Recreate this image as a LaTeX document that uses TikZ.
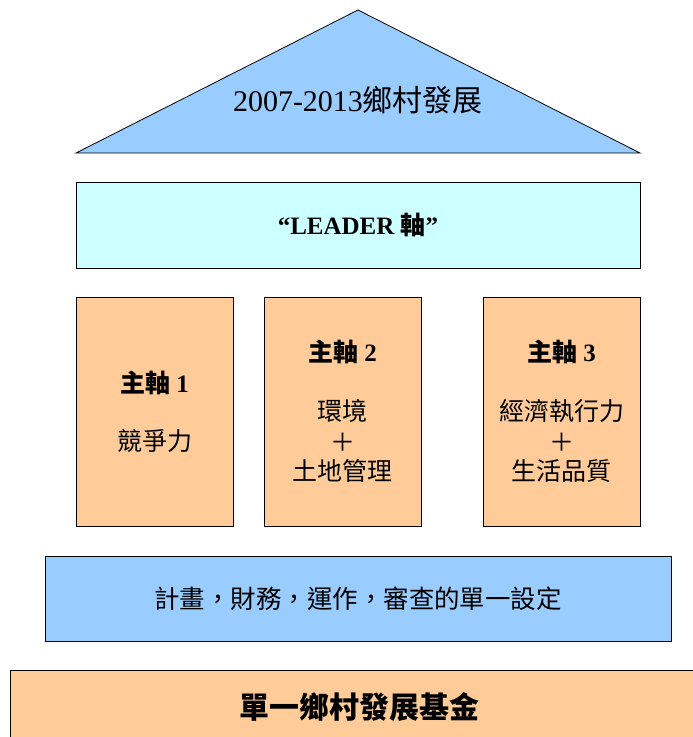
\documentclass[tikz,border=0pt]{standalone}
\usepackage{fontspec}
\setmainfont{Liberation Serif}
\newfontfamily\cjk{Noto Sans CJK TC}
\definecolor{skyblue}{HTML}{99CCFF}
\definecolor{paleaqua}{HTML}{CCFFFF}
\definecolor{peach}{HTML}{FFCC99}
\begin{document}
\begin{tikzpicture}[x=1pt,y=-1pt,
  box/.style={draw=black, line width=0.8pt, inner sep=0pt},
  lbl/.style={inner sep=0pt, anchor=center, text=black},
  fs/.style={font=\fontsize{#1}{#1}\selectfont}]
\useasboundingbox (0,0) rectangle (693,737);
\begin{scope}
\clip (0,0) rectangle (693,737);
% roof
\coordinate (apex) at (358,10);
\coordinate (bl) at (76,153);
\coordinate (br) at (640,153);
\filldraw[fill=skyblue, draw=black, line width=0.8pt] (apex) -- (br) -- (bl) -- cycle;
\node[lbl, fs=30] (title) at (358,100) {2007-2013{\cjk 鄉村發展}};
% LEADER
\node[box, fill=paleaqua, minimum width=564, minimum height=86] (leader) at (358,225) {};
\node[lbl, fs=25] (leadertxt) at (leader.center) {\bfseries “LEADER {\cjk\bfseries 軸}”};
% pillars
\node[box, fill=peach, minimum width=157, minimum height=229] (p1) at (154.5,411.5) {};
\node[box, fill=peach, minimum width=157, minimum height=229] (p2) at (342.5,411.5) {};
\node[box, fill=peach, minimum width=157, minimum height=229] (p3) at (561.5,411.5) {};
\node[lbl, fs=25] (p1h) at (154.5,383) {{\cjk\bfseries 主軸} \bfseries 1};
\node[lbl, fs=25] (p1a) at (154.5,441) {\cjk 競爭力};
\node[lbl, fs=25] (p2h) at (342.5,352) {{\cjk\bfseries 主軸} \bfseries 2};
\node[lbl, fs=25] (p2a) at (342.5,411) {\cjk 環境};
\node[lbl, fs=25] (p2p) at (342.5,442) {\cjk ＋};
\node[lbl, fs=25] (p2b) at (342.5,471) {\cjk 土地管理};
\node[lbl, fs=25] (p3h) at (561.5,352) {{\cjk\bfseries 主軸} \bfseries 3};
\node[lbl, fs=25] (p3a) at (561.5,411) {\cjk 經濟執行力};
\node[lbl, fs=25] (p3p) at (561.5,442) {\cjk ＋};
\node[lbl, fs=25] (p3b) at (561.5,471) {\cjk 生活品質};
% base bar
\node[box, fill=skyblue, minimum width=626, minimum height=85] (bar) at (358,598.5) {};
\node[lbl, fs=25.5] (bartxt) at (358,599) {\cjk 計畫，財務，運作，審查的單一設定};
% foundation
\node[box, fill=peach, minimum width=700, minimum height=90] (fund) at (360,715) {};
\node[lbl, fs=30] (fundtxt) at (359,707) {\cjk\bfseries 單一鄉村發展基金};
\end{scope}
\end{tikzpicture}
\end{document}
